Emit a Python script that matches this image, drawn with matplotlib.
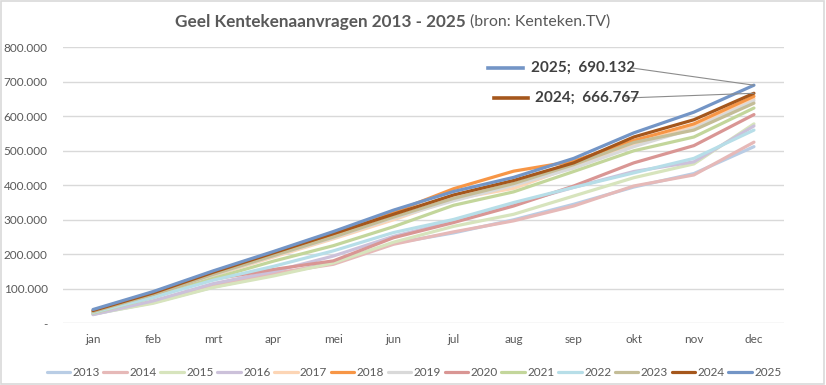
import matplotlib
matplotlib.use("Agg")
import matplotlib.pyplot as plt
from matplotlib.lines import Line2D
from matplotlib.patches import Rectangle

months = ["jan", "feb", "mrt", "apr", "mei", "jun", "jul", "aug", "sep", "okt", "nov", "dec"]
years = ["2013", "2014", "2015", "2016", "2017", "2018", "2019", "2020", "2021", "2022", "2023", "2024", "2025"]

# cumulative registrations (thousands)
s2013 = [26, 60, 105, 140, 176, 232, 262, 300, 345, 395, 434, 512]
s2014 = [28, 62, 110, 145, 171, 229, 265, 297, 340, 398, 430, 525]
s2015 = [27, 58, 104, 137, 175, 235, 281, 316, 369, 422, 462, 578]
s2016 = [25, 65, 115, 150, 195, 252, 295, 345, 394, 440, 468, 572]
s2017 = [32, 80, 138, 192, 245, 300, 360, 391, 455, 520, 570, 651]
s2018 = [34, 86, 146, 201, 256, 322, 390, 441, 470, 530, 578, 658]
s2019 = [33, 82, 140, 195, 248, 305, 355, 400, 450, 512, 565, 645]
s2020 = [33, 80, 128, 156, 181, 248, 292, 340, 398, 465, 515, 605]
s2021 = [30, 75, 130, 180, 225, 280, 342, 381, 440, 500, 540, 624]
s2022 = [32, 75, 125, 165, 210, 263, 301, 350, 394, 436, 478, 560]
s2023 = [34, 84, 142, 196, 250, 308, 362, 405, 460, 524, 560, 638]
s2024 = [37, 88, 148, 204, 260, 316, 372, 414, 465, 540, 590, 666.767]
s2025 = [40, 92, 152, 208, 266, 328, 382, 423, 478, 552, 612, 690.132]

series = [s2013, s2014, s2015, s2016, s2017, s2018, s2019, s2020, s2021, s2022, s2023, s2024, s2025]
colors = ["#b9cde5", "#e6b9b8", "#d7e4bd", "#ccc1da", "#fcd5b5", "#f79646", "#d9d9d9",
          "#d99694", "#c3d69b", "#b7dee8", "#c4bd97", "#a5571c", "#7395c6"]

yticks = [0, 100000, 200000, 300000, 400000, 500000, 600000, 700000, 800000]
ytick_labels = ["-", "100.000", "200.000", "300.000", "400.000", "500.000", "600.000", "700.000", "800.000"]

ann_labels = ["2025;  690.132", "2024;  666.767"]

plt.rcParams["font.family"] = ["Lato", "DejaVu Sans"]
txt = "#595959"

fig = plt.figure(figsize=(8.26, 3.85), dpi=100)
fig.patches.append(Rectangle((0.001, 0.002), 0.997, 0.995, transform=fig.transFigure,
                             fill=False, edgecolor="#d9d9d9", linewidth=1.2))

ax = fig.add_axes([63 / 826, 61.7 / 385, 721 / 826, 276 / 385])
x = list(range(len(months)))
handles = []
for yr, vals, c in zip(years, series, colors):
    (h,) = ax.plot(x, [v * 1000 for v in vals], color=c, linewidth=2.3,
                   solid_capstyle="round", solid_joinstyle="round", label=yr)
    handles.append(h)

ax.set_xlim(-0.5, 11.5)
ax.set_ylim(0, 800000)
ax.set_yticks(yticks)
ax.set_yticklabels(ytick_labels)
ax.set_xticks(x)
ax.set_xticklabels(months)
ax.grid(axis="y", color="#d9d9d9", linewidth=1.0)
ax.set_axisbelow(True)
for sp in ax.spines.values():
    sp.set_visible(False)
ax.tick_params(axis="both", length=0, labelsize=8.5, labelcolor=txt)
ax.tick_params(axis="y", pad=11)
ax.tick_params(axis="x", pad=8)

# title
fig.text(466 / 826, 1 - 22 / 385, "Geel Kentekenaanvragen 2013 - 2025", ha="right", va="center",
         fontsize=12.3, fontweight="bold", color=txt)
fig.text(470 / 826, 1 - 22 / 385, "(bron: Kenteken.TV)", ha="left", va="center",
         fontsize=11.4, color=txt)

# annotations with leader lines
end_x = x[-1]
anns = [(ann_labels[0], s2025[-1] * 1000, colors[12], 488, 523, 531, 68, 632),
        (ann_labels[1], s2024[-1] * 1000, colors[11], 494, 528, 535, 98, 626)]
for label, val, col, lx0, lx1, tx, ty, leadx in anns:
    yf = 1 - ty / 385
    fig.add_artist(Line2D([lx0 / 826, lx1 / 826], [yf, yf], transform=fig.transFigure,
                          color=col, linewidth=2.6))
    fig.text(tx / 826, yf, label, ha="left", va="center", fontsize=11,
             fontweight="bold", color="#404040")
    ax.annotate("", xy=(end_x, val), xycoords="data",
                xytext=(leadx / 826, yf), textcoords="figure fraction",
                arrowprops=dict(arrowstyle="-", color="#8c8c8c", linewidth=0.8,
                                shrinkA=0, shrinkB=0))

fig.legend(handles=handles, labels=years, loc="center", ncol=13,
           bbox_to_anchor=(414 / 826, 1 - 373 / 385), frameon=False, fontsize=8.5,
           handlelength=2.0, handletextpad=0.2, columnspacing=0.3, labelcolor=txt)

fig.savefig("out.png", dpi=100)
